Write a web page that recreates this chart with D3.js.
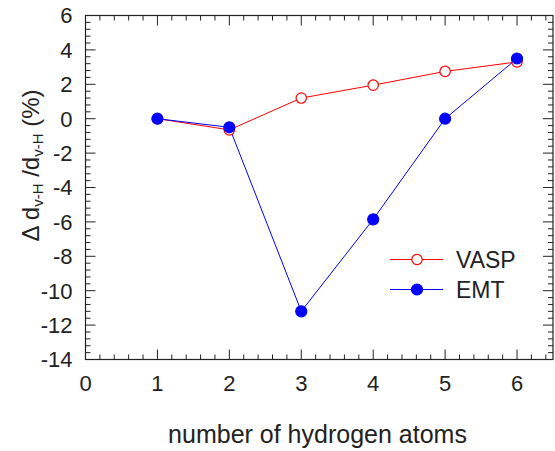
<!DOCTYPE html>
<html>
<head>
<meta charset="utf-8">
<script src="https://cdn.jsdelivr.net/npm/d3@7"></script>
<style>
  body { margin: 0; background: #fff; }
  text { font-family: "Liberation Sans", Arial, sans-serif; fill: #222; }
</style>
</head>
<body>
<svg id="chart" width="555" height="451"></svg>
<script>
const atoms = [1, 2, 3, 4, 5, 6];
const vasp = [0, -0.65, 1.2, 1.95, 2.75, 3.3];
const emt = [0, -0.5, -11.2, -5.85, 0, 3.5];
const xTicks = [0, 1, 2, 3, 4, 5, 6];
const yTicks = [6, 4, 2, 0, -2, -4, -6, -8, -10, -12, -14];

const margin = {top: 15.5, right: 2, bottom: 91.5, left: 85.5};
const w = 555 - margin.left - margin.right;
const h = 451 - margin.top - margin.bottom;

const svg = d3.select("#chart")
  .append("g")
  .attr("transform", `translate(${margin.left}, ${margin.top})`);

const x = d3.scaleLinear().domain([0, 6.5]).range([0, w]);
const y = d3.scaleLinear().domain([-14, 6]).range([h, 0]);

// frame
svg.append("rect")
  .attr("width", w).attr("height", h)
  .attr("fill", "none").attr("stroke", "#222").attr("stroke-width", 1.2);

// ticks on all four sides, pointing in
const xMinor = d3.range(0, 6.5001, 0.2);
const yMinor = d3.range(-14, 6.0001, 0.4);
const tickCol = "#222";
function isMajor(v) { return Math.abs(v - Math.round(v)) < 1e-6; }

svg.selectAll(".xt").data(xMinor).enter().append("g").each(function (d) {
  const len = isMajor(d) && d > 0 ? 10 : 5;
  const g = d3.select(this);
  g.append("line").attr("x1", x(d)).attr("x2", x(d)).attr("y1", h).attr("y2", h - len)
    .attr("stroke", tickCol).attr("stroke-width", 1);
  g.append("line").attr("x1", x(d)).attr("x2", x(d)).attr("y1", 0).attr("y2", len)
    .attr("stroke", tickCol).attr("stroke-width", 1);
});

svg.selectAll(".yt").data(yMinor).enter().append("g").each(function (d) {
  const len = Math.abs(d / 2 - Math.round(d / 2)) < 1e-6 ? 10 : 5;
  const g = d3.select(this);
  g.append("line").attr("x1", 0).attr("x2", len).attr("y1", y(d)).attr("y2", y(d))
    .attr("stroke", tickCol).attr("stroke-width", 1);
  g.append("line").attr("x1", w).attr("x2", w - len).attr("y1", y(d)).attr("y2", y(d))
    .attr("stroke", tickCol).attr("stroke-width", 1);
});

// tick labels
svg.selectAll(".xl").data(xTicks).enter().append("text")
  .attr("x", d => x(d)).attr("y", h + 31)
  .attr("text-anchor", "middle").style("font-size", "22px")
  .text(d => d);

svg.selectAll(".yl").data(yTicks).enter().append("text")
  .attr("x", -13).attr("y", d => y(d)).attr("dy", "0.36em")
  .attr("text-anchor", "end").style("font-size", "22px")
  .text(d => d);

// axis titles
svg.append("text")
  .attr("x", 232).attr("y", h + 83)
  .attr("text-anchor", "middle").style("font-size", "25px")
  .text("number of hydrogen atoms");

const yt = svg.append("text")
  .attr("transform", `translate(-47, 150) rotate(-90)`)
  .attr("text-anchor", "middle").style("font-size", "24px");
yt.append("tspan").text("\u0394 d");
yt.append("tspan").attr("baseline-shift", "-25%").style("font-size", "15px").text("v-H");
yt.append("tspan").text(" /d");
yt.append("tspan").attr("baseline-shift", "-25%").style("font-size", "15px").text("v-H");
yt.append("tspan").text(" (%)");

// series
const series = [
  {name: "VASP", vals: vasp, color: "#ff0000", fill: "#fff", r: 5.2},
  {name: "EMT", vals: emt, color: "#0000ff", fill: "#0000ff", r: 5.5}
];
const line = d3.line().x(d => x(d[0])).y(d => y(d[1]));

series.forEach(s => {
  const pts = atoms.map((a, i) => [a, s.vals[i]]);
  svg.append("path").datum(pts).attr("d", line)
    .attr("fill", "none").attr("stroke", s.color).attr("stroke-width", 1);
});
series.forEach(s => {
  const pts = atoms.map((a, i) => [a, s.vals[i]]);
  svg.selectAll(null).data(pts).enter().append("circle")
    .attr("cx", d => x(d[0])).attr("cy", d => y(d[1])).attr("r", s.r)
    .attr("fill", s.fill).attr("stroke", s.color).attr("stroke-width", 1.2);
});

// legend
const legend = svg.append("g").attr("transform", `translate(${390 - margin.left}, ${259.5 - margin.top})`);
series.forEach((s, i) => {
  const g = legend.append("g").attr("transform", `translate(0, ${i * 30})`);
  g.append("line").attr("x1", 0).attr("x2", 53).attr("stroke", s.color).attr("stroke-width", 1);
  g.append("circle").attr("cx", 27).attr("r", s.r).attr("fill", s.fill)
    .attr("stroke", s.color).attr("stroke-width", 1.2);
  g.append("text").attr("x", 66).attr("dy", "0.36em").style("font-size", "23px").text(s.name);
});
</script>
</body>
</html>
